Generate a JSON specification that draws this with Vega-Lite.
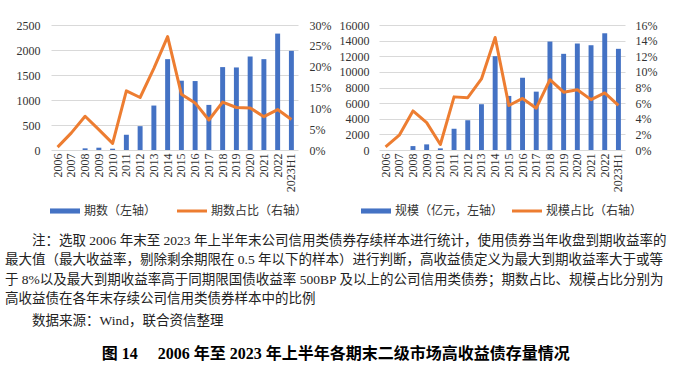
{
  "$schema": "https://vega.github.io/schema/vega-lite/v6.json",
  "padding": {"left": 5, "top": 19, "right": 5, "bottom": 4},
  "background": "white",
  "config": {
    "view": {"stroke": null},
    "font": "'Liberation Serif', 'Noto Sans CJK SC'",
    "axis": {
      "labelFont": "'Liberation Serif', 'Noto Sans CJK SC'",
      "labelFontSize": 12,
      "labelColor": "#333333",
      "domain": false,
      "ticks": false,
      "title": null,
      "gridColor": "#D9D9D9",
      "gridWidth": 1
    },
    "legend": {
      "labelFont": "'Liberation Serif', 'Noto Sans CJK SC'",
      "labelFontSize": 12,
      "labelColor": "#333333",
      "title": null,
      "direction": "horizontal",
      "orient": "none",
      "symbolSize": 900,
      "labelOffset": 4
    }
  },
  "title": {
    "text": "图 14　 2006 年至 2023 年上半年各期末二级市场高收益债存量情况",
    "orient": "bottom",
    "anchor": "middle",
    "font": "'Liberation Serif', 'Noto Sans CJK SC'",
    "fontSize": 16,
    "fontWeight": "bold",
    "color": "#000000",
    "offset": 16
  },
  "vconcat": [
    {
      "hconcat": [
        {
          "width": 247,
          "height": 125,
          "data": {"values": [
            {"year": "2006", "count": 0, "share": 0.007},
            {"year": "2007", "count": 0, "share": 0.041},
            {"year": "2008", "count": 33, "share": 0.081},
            {"year": "2009", "count": 46, "share": 0.049},
            {"year": "2010", "count": 26, "share": 0.016},
            {"year": "2011", "count": 305, "share": 0.142},
            {"year": "2012", "count": 477, "share": 0.126},
            {"year": "2013", "count": 889, "share": 0.196},
            {"year": "2014", "count": 1817, "share": 0.272},
            {"year": "2015", "count": 1386, "share": 0.134},
            {"year": "2016", "count": 1379, "share": 0.113},
            {"year": "2017", "count": 902, "share": 0.072},
            {"year": "2018", "count": 1658, "share": 0.115},
            {"year": "2019", "count": 1651, "share": 0.102},
            {"year": "2020", "count": 1870, "share": 0.101},
            {"year": "2021", "count": 1817, "share": 0.080},
            {"year": "2022", "count": 2328, "share": 0.097},
            {"year": "2023H1", "count": 1983, "share": 0.073}
          ]},
          "encoding": {
            "x": {
              "field": "year", "type": "ordinal", "sort": null,
              "scale": {"paddingInner": 0.64, "paddingOuter": 0.3},
              "axis": {"labelAngle": -90, "labelPadding": 3, "grid": false}
            }
          },
          "layer": [
            {
              "mark": {"type": "bar"},
              "encoding": {
                "y": {
                  "field": "count", "type": "quantitative",
                  "scale": {"domain": [0, 2500], "nice": false},
                  "axis": {"values": [0, 500, 1000, 1500, 2000, 2500], "format": "d", "grid": true, "labelPadding": 11, "minExtent": 46}
                },
                "color": {
                  "datum": "期数（左轴）",
                  "scale": {"domain": ["期数（左轴）", "期数占比（右轴）"], "range": ["#4472C4", "#ED7D31"]},
                  "legend": {
                    "legendX": -1, "legendY": 171, "columnPadding": 20,
                    "encode": {"symbols": {"update": {
                      "shape": {"signal": "datum.index === 0 ? 'M-1,-0.17H1V0.17H-1Z' : 'M-1,-0.1H1V0.1H-1Z'"},
                      "fill": {"signal": "datum.index === 0 ? '#4472C4' : '#ED7D31'"},
                      "stroke": {"value": "transparent"},
                      "strokeWidth": {"value": 0},
                      "opacity": {"value": 1}
                    }}}
                  }
                }
              }
            },
            {
              "mark": {"type": "line", "strokeWidth": 3, "strokeJoin": "round"},
              "encoding": {
                "y": {
                  "field": "share", "type": "quantitative",
                  "scale": {"domain": [0, 0.3], "nice": false},
                  "axis": {"orient": "right", "format": ".0%", "values": [0, 0.05, 0.1, 0.15, 0.2, 0.25, 0.3], "grid": false, "labelPadding": 11}
                },
                "color": {"datum": "期数占比（右轴）"}
              }
            }
          ],
          "resolve": {"scale": {"y": "independent"}}
        },
        {
          "width": 246,
          "height": 125,
          "data": {"values": [
            {"year": "2006", "size": 0, "share": 0.004},
            {"year": "2007", "size": 0, "share": 0.019},
            {"year": "2008", "size": 500, "share": 0.050},
            {"year": "2009", "size": 720, "share": 0.035},
            {"year": "2010", "size": 210, "share": 0.007},
            {"year": "2011", "size": 2720, "share": 0.068},
            {"year": "2012", "size": 3820, "share": 0.067},
            {"year": "2013", "size": 5860, "share": 0.091},
            {"year": "2014", "size": 12010, "share": 0.144},
            {"year": "2015", "size": 6920, "share": 0.057},
            {"year": "2016", "size": 9250, "share": 0.066},
            {"year": "2017", "size": 7470, "share": 0.0535},
            {"year": "2018", "size": 13880, "share": 0.090},
            {"year": "2019", "size": 12310, "share": 0.074},
            {"year": "2020", "size": 13630, "share": 0.077},
            {"year": "2021", "size": 13410, "share": 0.0645},
            {"year": "2022", "size": 14940, "share": 0.073},
            {"year": "2023H1", "size": 12950, "share": 0.057}
          ]},
          "encoding": {
            "x": {
              "field": "year", "type": "ordinal", "sort": null,
              "scale": {"paddingInner": 0.64, "paddingOuter": 0.3},
              "axis": {"labelAngle": -90, "labelPadding": 3, "grid": false}
            }
          },
          "layer": [
            {
              "mark": {"type": "bar"},
              "encoding": {
                "y": {
                  "field": "size", "type": "quantitative",
                  "scale": {"domain": [0, 16000], "nice": false},
                  "axis": {"values": [0, 2000, 4000, 6000, 8000, 10000, 12000, 14000, 16000], "format": "d", "grid": true, "labelPadding": 10}
                },
                "color": {
                  "datum": "规模（亿元，左轴）",
                  "scale": {"domain": ["规模（亿元，左轴）", "规模占比（右轴）"], "range": ["#4472C4", "#ED7D31"]},
                  "legend": {
                    "legendX": -18, "legendY": 171, "columnPadding": 8,
                    "encode": {"symbols": {"update": {
                      "shape": {"signal": "datum.index === 0 ? 'M-1,-0.17H1V0.17H-1Z' : 'M-1,-0.1H1V0.1H-1Z'"},
                      "fill": {"signal": "datum.index === 0 ? '#4472C4' : '#ED7D31'"},
                      "stroke": {"value": "transparent"},
                      "strokeWidth": {"value": 0},
                      "opacity": {"value": 1}
                    }}}
                  }
                }
              }
            },
            {
              "mark": {"type": "line", "strokeWidth": 3, "strokeJoin": "round"},
              "encoding": {
                "y": {
                  "field": "share", "type": "quantitative",
                  "scale": {"domain": [0, 0.16], "nice": false},
                  "axis": {"orient": "right", "format": ".0%", "values": [0, 0.02, 0.04, 0.06, 0.08, 0.1, 0.12, 0.14, 0.16], "grid": false, "labelPadding": 10}
                },
                "color": {"datum": "规模占比（右轴）"}
              }
            }
          ],
          "resolve": {"scale": {"y": "independent"}}
        }
      ],
      "spacing": 8,
      "resolve": {"scale": {"color": "independent"}, "legend": {"color": "independent"}}
    },
    {
      "width": 600,
      "height": 1,
      "data": {"values": []},
      "mark": {"type": "point"},
      "title": {
        "text": [
          "\u200b　　注：选取 2006 年末至 2023 年上半年末公司信用类债券存续样本进行统计，使用债券当年收盘到期收益率的",
          "最大值（最大收益率，剔除剩余期限在 0.5 年以下的样本）进行判断，高收益债定义为最大到期收益率大于或等",
          "于 8%以及最大到期收益率高于同期限国债收益率 500BP 及以上的公司信用类债券；期数占比、规模占比分别为",
          "高收益债在各年末存续公司信用类债券样本中的比例"
        ],
        "subtitle": "\u200b　　数据来源：Wind，联合资信整理",
        "anchor": "start",
        "orient": "top",
        "dx": -46,
        "font": "'Liberation Serif', 'Noto Sans CJK SC'",
        "fontSize": 13.5,
        "fontWeight": "normal",
        "color": "#222222",
        "lineHeight": 19.5,
        "subtitleFont": "'Liberation Serif', 'Noto Sans CJK SC'",
        "subtitleFontSize": 13.5,
        "subtitleColor": "#222222",
        "subtitlePadding": 8,
        "offset": 2
      }
    }
  ],
  "spacing": 16
}
